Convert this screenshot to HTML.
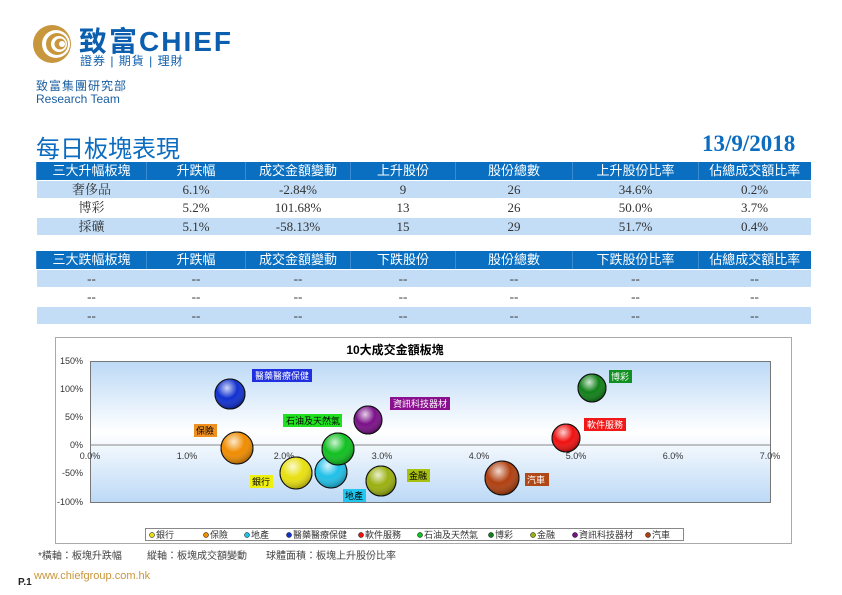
<!DOCTYPE html>
<html><head><meta charset="utf-8"><style>
*{margin:0;padding:0}
body{width:842px;height:595px;position:relative;background:#fff;font-family:"Liberation Serif","Noto Serif CJK SC",serif;overflow:hidden}
.a{position:absolute}
table{position:absolute;left:36px;border-collapse:collapse;width:774px;table-layout:fixed}
td{height:17.5px;text-align:center;font-size:13px;color:#333;padding:0;line-height:17px}
tr.h td{background:#0a6fc0;color:#fff;font-family:"Liberation Sans","Noto Sans CJK TC",sans-serif;font-size:13px;border-left:1px solid #3b8bd0}
tr.b td{background:#c3ddf7}
tr td{border-bottom:1px solid #fff}
</style></head><body>
<svg class="a" style="left:32px;top:24px" width="40" height="40" viewBox="0 0 40 40">
<circle cx="20" cy="20" r="19" fill="#c8963c"/>
<circle cx="24" cy="20" r="14" fill="#fff"/>
<circle cx="25" cy="20" r="11" fill="#c8963c"/>
<circle cx="27" cy="20" r="8" fill="#fff"/>
<circle cx="28" cy="20" r="5.5" fill="#c8963c"/>
<circle cx="30" cy="20" r="3" fill="#fff"/>
</svg>
<div class="a" style="left:79px;top:20px;font:bold 28px 'Liberation Sans','Noto Sans CJK TC',sans-serif;color:#0b5fae;letter-spacing:2px">致富CHIEF</div>
<div class="a" style="left:80px;top:52px;font:12px 'Liberation Sans','Noto Sans CJK TC',sans-serif;color:#0b5fae;letter-spacing:1px">證券 | 期貨 | 理財</div>
<div class="a" style="left:36px;top:77px;font:12px 'Liberation Sans','Noto Sans CJK TC',sans-serif;color:#1b5fa0;letter-spacing:1px">致富集團研究部</div>
<div class="a" style="left:36px;top:92px;font:12px 'Liberation Sans',sans-serif;color:#1b5fa0">Research Team</div>
<div class="a" style="left:36px;top:129px;font:24px 'Liberation Sans','Noto Sans CJK TC',sans-serif;color:#0b6cc0">每日板塊表現</div>
<div class="a" style="left:702px;top:131px;font:bold 23px 'Liberation Serif',serif;color:#0b6cc0">13/9/2018</div>
<table style="top:162px"><colgroup><col style="width:110px"><col style="width:99px"><col style="width:105px"><col style="width:105px"><col style="width:117px"><col style="width:126px"><col style="width:112px"></colgroup>
<tr class="h"><td>三大升幅板塊</td><td>升跌幅</td><td>成交金額變動</td><td>上升股份</td><td>股份總數</td><td>上升股份比率</td><td>佔總成交額比率</td></tr>
<tr class="b"><td>奢侈品</td><td>6.1%</td><td>-2.84%</td><td>9</td><td>26</td><td>34.6%</td><td>0.2%</td></tr>
<tr><td>博彩</td><td>5.2%</td><td>101.68%</td><td>13</td><td>26</td><td>50.0%</td><td>3.7%</td></tr>
<tr class="b"><td>採礦</td><td>5.1%</td><td>-58.13%</td><td>15</td><td>29</td><td>51.7%</td><td>0.4%</td></tr>
</table>
<table style="top:251px"><colgroup><col style="width:110px"><col style="width:99px"><col style="width:105px"><col style="width:105px"><col style="width:117px"><col style="width:126px"><col style="width:112px"></colgroup>
<tr class="h"><td>三大跌幅板塊</td><td>升跌幅</td><td>成交金額變動</td><td>下跌股份</td><td>股份總數</td><td>下跌股份比率</td><td>佔總成交額比率</td></tr>
<tr class="b"><td>--</td><td>--</td><td>--</td><td>--</td><td>--</td><td>--</td><td>--</td></tr>
<tr><td>--</td><td>--</td><td>--</td><td>--</td><td>--</td><td>--</td><td>--</td></tr>
<tr class="b"><td>--</td><td>--</td><td>--</td><td>--</td><td>--</td><td>--</td><td>--</td></tr>
</table>
<svg class="a" style="left:0;top:0" width="842" height="595" font-family="Liberation Sans,Noto Sans CJK TC,sans-serif">
<defs>
<linearGradient id="bg" x1="0" y1="0" x2="0" y2="1"><stop offset="0" stop-color="#bcd9f6"/><stop offset="0.5" stop-color="#fff"/><stop offset="1" stop-color="#bcd9f6"/></linearGradient>
<radialGradient id="g" cx="0.4" cy="0.3" r="0.7"><stop offset="0" stop-color="#fff" stop-opacity="0.8"/><stop offset="0.5" stop-color="#fff" stop-opacity="0"/><stop offset="1" stop-color="#000" stop-opacity="0.3"/></radialGradient>
</defs>
<rect x="55.5" y="337.5" width="736" height="206" fill="#fff" stroke="#aaa"/>
<text x="395" y="354" font-size="12" font-weight="bold" text-anchor="middle" fill="#000">10大成交金額板塊</text>
<rect x="90.5" y="361.5" width="680" height="141" fill="url(#bg)" stroke="#777"/>
<line x1="90" y1="445" x2="770" y2="445" stroke="#888"/>
<g font-size="9" fill="#333" text-anchor="end">
<text x="83" y="364">150%</text><text x="83" y="392">100%</text><text x="83" y="420">50%</text><text x="83" y="448">0%</text><text x="83" y="476">-50%</text><text x="83" y="505">-100%</text></g>
<g font-size="9" fill="#333" text-anchor="middle">
<text x="90" y="459">0.0%</text><text x="187" y="459">1.0%</text><text x="284" y="459">2.0%</text><text x="382" y="459">3.0%</text><text x="479" y="459">4.0%</text><text x="576" y="459">5.0%</text><text x="673" y="459">6.0%</text><text x="770" y="459">7.0%</text></g>
<g stroke="#111" stroke-width="1">
<circle cx="230" cy="394" r="15" fill="#1030d0"/><circle cx="230" cy="394" r="15" fill="url(#g)"/>
<circle cx="237" cy="448" r="16" fill="#f08c00"/><circle cx="237" cy="448" r="16" fill="url(#g)"/>
<circle cx="368" cy="420" r="14" fill="#7a1088"/><circle cx="368" cy="420" r="14" fill="url(#g)"/>
<circle cx="296" cy="473" r="16" fill="#e8e010"/><circle cx="296" cy="473" r="16" fill="url(#g)"/>
<circle cx="331" cy="472" r="16" fill="#20c0e8"/><circle cx="331" cy="472" r="16" fill="url(#g)"/>
<circle cx="338" cy="449" r="16" fill="#10c020"/><circle cx="338" cy="449" r="16" fill="url(#g)"/>
<circle cx="381" cy="481" r="15" fill="#9ab010"/><circle cx="381" cy="481" r="15" fill="url(#g)"/>
<circle cx="592" cy="388" r="14" fill="#108018"/><circle cx="592" cy="388" r="14" fill="url(#g)"/>
<circle cx="566" cy="438" r="14" fill="#f01010"/><circle cx="566" cy="438" r="14" fill="url(#g)"/>
<circle cx="502" cy="478" r="17" fill="#b04010"/><circle cx="502" cy="478" r="17" fill="url(#g)"/>
</g>
<g font-size="9">
<rect x="252" y="369" width="60" height="13" fill="#2030e0"/><text x="255" y="379" fill="#fff">醫藥醫療保健</text>
<rect x="390" y="397" width="60" height="13" fill="#8a1090"/><text x="393" y="407" fill="#fff">資訊科技器材</text>
<rect x="283" y="414" width="59" height="13" fill="#20e020"/><text x="286" y="424" fill="#000">石油及天然氣</text>
<rect x="194" y="424" width="23" height="13" fill="#f09020"/><text x="196" y="434" fill="#000">保險</text>
<rect x="250" y="475" width="23" height="13" fill="#f0f010"/><text x="252" y="485" fill="#000">銀行</text>
<rect x="343" y="489" width="23" height="13" fill="#20c8f0"/><text x="345" y="499" fill="#000">地產</text>
<rect x="407" y="469" width="23" height="13" fill="#a8c010"/><text x="409" y="479" fill="#000">金融</text>
<rect x="609" y="370" width="23" height="13" fill="#109020"/><text x="611" y="380" fill="#fff">博彩</text>
<rect x="584" y="418" width="42" height="13" fill="#f01818"/><text x="587" y="428" fill="#fff">軟件服務</text>
<rect x="525" y="473" width="24" height="13" fill="#b04818"/><text x="527" y="483" fill="#fff">汽車</text>
</g>
<rect x="145.5" y="528.5" width="538" height="12" fill="#fff" stroke="#888"/>
<g font-size="9" fill="#333">
<circle cx="152" cy="535" r="2.5" fill="#e8e010" stroke="#000" stroke-width=".5"/><text x="156" y="538">銀行</text>
<circle cx="206" cy="535" r="2.5" fill="#f08c00" stroke="#000" stroke-width=".5"/><text x="210" y="538">保險</text>
<circle cx="247" cy="535" r="2.5" fill="#20c0e8" stroke="#000" stroke-width=".5"/><text x="251" y="538">地產</text>
<circle cx="289" cy="535" r="2.5" fill="#1030d0" stroke="#000" stroke-width=".5"/><text x="293" y="538">醫藥醫療保健</text>
<circle cx="361" cy="535" r="2.5" fill="#f01010" stroke="#000" stroke-width=".5"/><text x="365" y="538">軟件服務</text>
<circle cx="420" cy="535" r="2.5" fill="#10c020" stroke="#000" stroke-width=".5"/><text x="424" y="538">石油及天然氣</text>
<circle cx="491" cy="535" r="2.5" fill="#108018" stroke="#000" stroke-width=".5"/><text x="495" y="538">博彩</text>
<circle cx="533" cy="535" r="2.5" fill="#9ab010" stroke="#000" stroke-width=".5"/><text x="537" y="538">金融</text>
<circle cx="575" cy="535" r="2.5" fill="#7a1088" stroke="#000" stroke-width=".5"/><text x="579" y="538">資訊科技器材</text>
<circle cx="648" cy="535" r="2.5" fill="#b04010" stroke="#000" stroke-width=".5"/><text x="652" y="538">汽車</text>
</g>
<text x="38" y="559" font-size="10" fill="#444">*橫軸：板塊升跌幅</text>
<text x="147" y="559" font-size="10" fill="#444">縱軸：板塊成交額變動</text>
<text x="266" y="559" font-size="10" fill="#444">球體面積：板塊上升股份比率</text>
<text x="18" y="585" font-size="10" font-weight="bold" fill="#222">P.1</text>
<text x="34" y="579" font-size="11" fill="#c8963c">www.chiefgroup.com.hk</text>
</svg>
</body></html>
